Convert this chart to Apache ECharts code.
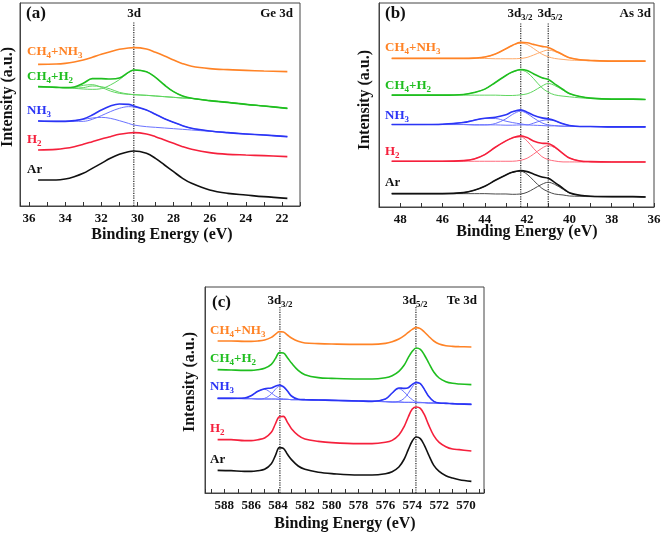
<!DOCTYPE html>
<html><head><meta charset="utf-8">
<script src="https://cdn.jsdelivr.net/npm/echarts@6/dist/echarts.min.js"></script>
<style>html,body{margin:0;padding:0;background:#fff}#c{width:661px;height:534px}</style>
</head><body><div id="c"></div>
<script>
// ---------- (a) Ge 3d ----------
const ge_E = [35.5,34.5,34,33.5,33,32.5,32,31.5,31,30.5,30.2,29.5,29,28.5,28,27.5,27,26,25,24,23,21.7];
const ge_Ar = [78,78,81,88,98,113,128,143,155,163,165,158,143,123,103,83,68,48,38,33,28,23];
const ge_H2 = [168,170,173,178,185,193,201,208,215,219,220,216,208,198,188,178,170,160,155,153,151,148];
const ge_NH3 = [255,254,254,256,261,273,288,300,306,305,300,288,275,262,251,241,233,225,220,216,213,208];
const ge_NH3_c1 = [255,254,254,256,260,264,266,263,256,248,243,238,236,234,232,230,228,224,220,216,213,208];
const ge_NH3_c2 = [255,254,254,254,254,260,271,283,293,298,297,288,275,262,251,241,233,225,220,216,213,208];
const ge_CH4H2 = [358,356,355,357,368,382,382,381,384,401,408,403,386,363,343,330,323,316,311,305,300,293];
const ge_CH4H2_cA = [358,356,355,356,362,364,356,345,338,335,334,332,330,328,326,324,323,316,311,305,300,293];
const ge_CH4H2_cB = [358,356,355,354,355,360,358,351,341,336,334,332,330,328,326,324,323,316,311,305,300,293];
const ge_CH4H2_cM = [358,356,355,353,351,350,352,363,379,400,408,403,386,363,343,330,323,316,311,305,300,293];
const ge_CH4NH3 = [425,426,428,432,438,446,455,463,470,474,475,471,461,450,438,427,419,412,409,407,405,403];
const ge_marks = [30.2];

// ---------- (b) As 3d ----------
const as_E = [48.4,47,46,45,44.5,44,43.5,43,42.7,42.3,42,41.7,41.3,41,40.7,40.3,40,39.5,39,38,37,36.4];
const as_Ar = [40,40,40,43,50,62,80,96,104,109,106,99,90,86,74,56,43,35,32,31,31,30];
const as_Ar_c1 = [40,40,40,43,50,62,80,96,104,107,98,80,56,46,39,36,33,32,31,31,31,30];
const as_Ar_c2 = [40,40,40,40,40,40,39,39,38,39,44,54,68,74,68,53,42,35,32,31,31,30];
const as_H2 = [137,137,137,139,144,157,179,198,207,213,208,198,191,190,180,160,147,138,136,135,135,135];
const as_H2_c1 = [137,137,137,139,144,157,179,198,207,210,198,176,151,142,138,135,135,135,135,135,135,135];
const as_H2_c2 = [137,137,137,137,137,137,137,137,137,140,146,158,176,184,178,160,147,138,136,135,135,135];
const as_NH3 = [247,247,248,253,260,266,269,276,285,291,284,275,267,264,259,249,244,241,241,240,240,240];
const as_NH3_c1 = [247,247,248,254,260,265,265,257,253,249,246,245,244,243,243,242,242,241,241,240,240,240];
const as_NH3_c2 = [247,247,247,247,246,246,250,264,277,287,280,267,252,246,244,242,242,241,241,240,240,240];
const as_NH3_c3 = [247,247,247,247,246,246,246,245,245,246,246,251,259,261,258,249,244,241,241,240,240,240];
const as_CH4H2 = [335,335,335,337,343,353,373,394,404,412,409,399,387,382,369,352,340,331,326,323,323,322];
const as_CH4H2_c1 = [335,335,335,337,343,353,373,394,404,410,403,385,357,344,336,332,330,327,325,323,323,322];
const as_CH4H2_c2 = [335,335,335,335,335,335,335,334,334,336,339,347,362,370,364,350,339,331,326,323,323,322];
const as_CH4NH3 = [445,445,445,445,446,449,458,474,484,493,492,487,481,478,469,456,447,441,439,437,437,437];
const as_CH4NH3_c1 = [445,445,445,445,446,449,458,474,484,491,487,475,458,450,445,442,440,439,438,437,437,437];
const as_CH4NH3_c2 = [445,445,445,445,445,445,444,444,444,445,448,455,465,470,466,455,447,441,439,437,437,437];
const as_marks = [42.3, 41.0];

// ---------- (c) Te 3d ----------
const te_E = [588.5,587.5,586.5,586,585.5,585,584.5,584.2,583.9,583.6,583.3,583,582.5,582,581,580,578,577,576,575.5,575,574.6,574.3,574,573.7,573.4,573.1,572.8,572.4,572,571.5,571,570.5,569.6];
const te_Ar = [68,67,65,65,67,71,88,112,136,134,116,100,81,71,62,58,54,54,58,64,78,102,130,156,168,163,143,116,83,65,52,45,40,35];
const te_H2 = [160,160,157,157,160,165,182,207,229,230,212,193,173,162,155,151,148,148,152,158,174,200,228,252,258,254,235,206,172,152,139,132,130,126];
const te_NH3 = [284,284,285,292,305,313,315,320,324,319,306,291,281,280,279,278,276,275,282,300,315,314,316,326,332,328,311,291,275,270,269,268,267,266];
const te_NH3_c1 = [284,284,285,292,305,311,300,291,285,282,281,280,280,280,279,278,276,275,274,273,273,272,272,272,271,271,271,270,270,269,269,268,267,266];
const te_NH3_c2 = [284,284,283,283,282,284,297,311,320,318,305,291,281,280,279,278,276,275,274,273,273,272,272,272,271,271,271,270,270,269,269,268,267,266];
const te_NH3_c3 = [284,284,283,283,282,282,282,282,281,281,281,280,280,280,279,278,276,275,282,300,313,303,290,280,273,272,271,270,270,269,269,268,267,266];
const te_NH3_c4 = [284,284,283,283,282,282,282,282,281,281,281,280,280,280,279,278,276,275,274,273,275,284,299,318,330,327,311,291,275,270,269,268,267,266];
const te_CH4H2 = [370,369,368,368,370,374,386,403,421,420,406,390,368,355,346,344,342,342,346,352,365,384,406,425,435,431,414,392,363,345,334,329,327,325];
const te_CH4NH3 = [456,456,455,455,456,459,467,476,484,483,474,465,455,450,448,447,446,446,449,454,462,472,482,491,496,493,483,471,456,447,442,440,439,438];
const te_marks = [583.86, 573.73];

// ---------- styling ----------
const FONT = '"Liberation Serif","Times New Roman",serif';
const COL = {Ar:'#111111', H2:'#f5203c', NH3:'#2b35f5', CH4H2:'#1fbe1f', CH4NH3:'#ff8326'};
const LIGHT = {Ar:'#4a4a4a', H2:'#ff6a7c', NH3:'#6a72ff', CH4H2:'#5fd65f', CH4NH3:'#ffab6a'};

const chart = echarts.init(document.getElementById('c'), null, {renderer:'canvas'});

function xAxisDef(grid, min, max, useInterval){
  const a = {
    type:'value', gridIndex:grid, min:min, max:max, inverse:true,
    axisLine:{show:true, lineStyle:{color:'#444', width:1}},
    axisTick:{show:true, inside:true, length:4, lineStyle:{color:'#333', width:1}},
    splitLine:{show:false},
    axisLabel:{margin:6, color:'#111', fontFamily:FONT, fontWeight:'bold', fontSize:13,
      formatter:function(v){ const r=Math.round(v); return (Math.abs(v-r)<1e-6 && r%2===0) ? String(r) : ''; }}
  };
  if(useInterval){ a.interval = 1; } else { a.splitNumber = 20; a.minInterval = 1; a.maxInterval = 1; }
  return a;
}
function yAxisDef(grid, max){
  return {type:'value', gridIndex:grid, min:0, max:max, axisLine:{show:true, lineStyle:{color:'#444'}},
    axisTick:{show:false}, axisLabel:{show:false}, splitLine:{show:false}};
}
function line(g, xs, ys, color, width, z){
  return {type:'line', xAxisIndex:g, yAxisIndex:g, data: xs.map((x,i)=>[x, ys[i]]),
    showSymbol:false, symbol:'none', smooth:0.35, silent:true, animation:false, z:z,
    lineStyle:{color:color, width:width}};
}
function vmark(g, x, top){
  return {type:'line', xAxisIndex:g, yAxisIndex:g, data:[[x,0],[x,top]], showSymbol:false, symbol:'none',
    silent:true, animation:false, z:1, lineStyle:{color:'#222', width:1.2, type:'dotted'}};
}
function rich(color, size){
  const ss = Math.round(size*0.7);
  return {
    n:{fontFamily:FONT, fontWeight:'bold', fontSize:size, fill:color, lineHeight:size+2, verticalAlign:'top'},
    s:{fontFamily:FONT, fontWeight:'bold', fontSize:ss, fill:color, lineHeight:ss+1, padding:[Math.round(size*0.45),0,0,0], verticalAlign:'top'}
  };
}
function txt(x, y, text, color, size, align, rot){
  return {type:'text', x:x, y:y, rotation: rot||0, silent:true, z:100,
    style:{text:text, rich:rich(color,size), fill:color, font:'bold '+size+'px '+FONT,
      align:align||'left', textAlign:align||'left', verticalAlign:'middle', textVerticalAlign:'middle'}};
}

const series = [];
// (a)
series.push(line(0, ge_E, ge_NH3_c1, LIGHT.NH3, 1, 2), line(0, ge_E, ge_NH3_c2, LIGHT.NH3, 1, 2));
series.push(line(0, ge_E, ge_CH4H2_cA, LIGHT.CH4H2, 1, 2), line(0, ge_E, ge_CH4H2_cB, LIGHT.CH4H2, 1, 2), line(0, ge_E, ge_CH4H2_cM, LIGHT.CH4H2, 1, 2));
series.push(line(0, ge_E, ge_Ar, COL.Ar, 1.6, 3), line(0, ge_E, ge_H2, COL.H2, 1.6, 3), line(0, ge_E, ge_NH3, COL.NH3, 1.6, 3),
  line(0, ge_E, ge_CH4H2, COL.CH4H2, 1.6, 3), line(0, ge_E, ge_CH4NH3, COL.CH4NH3, 1.6, 3));
ge_marks.forEach(m=>series.push(vmark(0, m, 552)));
// (b)
series.push(line(1, as_E, as_Ar_c1, LIGHT.Ar, 1, 2), line(1, as_E, as_Ar_c2, LIGHT.Ar, 1, 2));
series.push(line(1, as_E, as_H2_c1, LIGHT.H2, 1, 2), line(1, as_E, as_H2_c2, LIGHT.H2, 1, 2));
series.push(line(1, as_E, as_NH3_c1, LIGHT.NH3, 1, 2), line(1, as_E, as_NH3_c2, LIGHT.NH3, 1, 2), line(1, as_E, as_NH3_c3, LIGHT.NH3, 1, 2));
series.push(line(1, as_E, as_CH4H2_c1, LIGHT.CH4H2, 1, 2), line(1, as_E, as_CH4H2_c2, LIGHT.CH4H2, 1, 2));
series.push(line(1, as_E, as_CH4NH3_c1, LIGHT.CH4NH3, 1, 2), line(1, as_E, as_CH4NH3_c2, LIGHT.CH4NH3, 1, 2));
series.push(line(1, as_E, as_Ar, COL.Ar, 1.6, 3), line(1, as_E, as_H2, COL.H2, 1.6, 3), line(1, as_E, as_NH3, COL.NH3, 1.6, 3),
  line(1, as_E, as_CH4H2, COL.CH4H2, 1.6, 3), line(1, as_E, as_CH4NH3, COL.CH4NH3, 1.6, 3));
as_marks.forEach(m=>series.push(vmark(1, m, 550)));
// (c)
series.push(line(2, te_E, te_NH3_c1, LIGHT.NH3, 1, 2), line(2, te_E, te_NH3_c2, LIGHT.NH3, 1, 2),
  line(2, te_E, te_NH3_c3, LIGHT.NH3, 1, 2), line(2, te_E, te_NH3_c4, LIGHT.NH3, 1, 2));
series.push(line(2, te_E, te_Ar, COL.Ar, 1.6, 3), line(2, te_E, te_H2, COL.H2, 1.6, 3), line(2, te_E, te_NH3, COL.NH3, 1.6, 3),
  line(2, te_E, te_CH4H2, COL.CH4H2, 1.6, 3), line(2, te_E, te_CH4NH3, COL.CH4NH3, 1.6, 3));
te_marks.forEach(m=>series.push(vmark(2, m, 558)));

const graphic = [
  // panel a
  txt(26, 15, '{n|(a)}', '#111', 17), txt(134, 15, '{n|3d}', '#111', 13, 'center'), txt(293, 15, '{n|Ge 3d}', '#111', 13, 'right'),
  txt(27, 53, '{n|CH}{s|4}{n|+NH}{s|3}', COL.CH4NH3, 13), txt(27, 78, '{n|CH}{s|4}{n|+H}{s|2}', COL.CH4H2, 13),
  txt(27, 112, '{n|NH}{s|3}', COL.NH3, 13), txt(27, 141, '{n|H}{s|2}', COL.H2, 13), txt(27, 171, '{n|Ar}', COL.Ar, 13),
  txt(9, 97, '{n|Intensity (a.u.)}', '#111', 16, 'center', Math.PI/2),
  txt(162, 236, '{n|Binding Energy (eV)}', '#111', 16, 'center'),
  // panel b
  txt(385, 15, '{n|(b)}', '#111', 17), txt(520, 15, '{n|3d}{s|3/2}', '#111', 13, 'center'), txt(550, 15, '{n|3d}{s|5/2}', '#111', 13, 'center'),
  txt(651, 15, '{n|As 3d}', '#111', 13, 'right'),
  txt(385, 49, '{n|CH}{s|4}{n|+NH}{s|3}', COL.CH4NH3, 13), txt(385, 87, '{n|CH}{s|4}{n|+H}{s|2}', COL.CH4H2, 13),
  txt(385, 117, '{n|NH}{s|3}', COL.NH3, 13), txt(385, 153, '{n|H}{s|2}', COL.H2, 13), txt(385, 184, '{n|Ar}', COL.Ar, 13),
  txt(366, 100, '{n|Intensity (a.u.)}', '#111', 16, 'center', Math.PI/2),
  txt(527, 233, '{n|Binding Energy (eV)}', '#111', 16, 'center'),
  // panel c
  txt(212, 304, '{n|(c)}', '#111', 17), txt(280, 302, '{n|3d}{s|3/2}', '#111', 13, 'center'), txt(415, 302, '{n|3d}{s|5/2}', '#111', 13, 'center'),
  txt(477, 302, '{n|Te 3d}', '#111', 13, 'right'),
  txt(210, 332, '{n|CH}{s|4}{n|+NH}{s|3}', COL.CH4NH3, 13), txt(210, 360, '{n|CH}{s|4}{n|+H}{s|2}', COL.CH4H2, 13),
  txt(210, 388, '{n|NH}{s|3}', COL.NH3, 13), txt(210, 430, '{n|H}{s|2}', COL.H2, 13), txt(210, 461, '{n|Ar}', COL.Ar, 13),
  txt(191, 382, '{n|Intensity (a.u.)}', '#111', 16, 'center', Math.PI/2),
  txt(345, 525, '{n|Binding Energy (eV)}', '#111', 16, 'center')
];

chart.setOption({
  backgroundColor:'#fff',
  animation:false,
  grid:[
    {left:20, top:3, width:280, height:203, show:true, borderColor:'#444', borderWidth:1, containLabel:false, outerBoundsMode:'none'},
    {left:379, top:3, width:275, height:204, show:true, borderColor:'#444', borderWidth:1, containLabel:false, outerBoundsMode:'none'},
    {left:205, top:287, width:279, height:206, show:true, borderColor:'#444', borderWidth:1, containLabel:false, outerBoundsMode:'none'}
  ],
  xAxis:[ xAxisDef(0, 21, 36.5, true), xAxisDef(1, 36, 49, true), xAxisDef(2, 568.66, 589.44, false) ],
  yAxis:[ yAxisDef(0, 609), yAxisDef(1, 611), yAxisDef(2, 618) ],
  series: series,
  graphic: graphic
});
</script></body></html>
